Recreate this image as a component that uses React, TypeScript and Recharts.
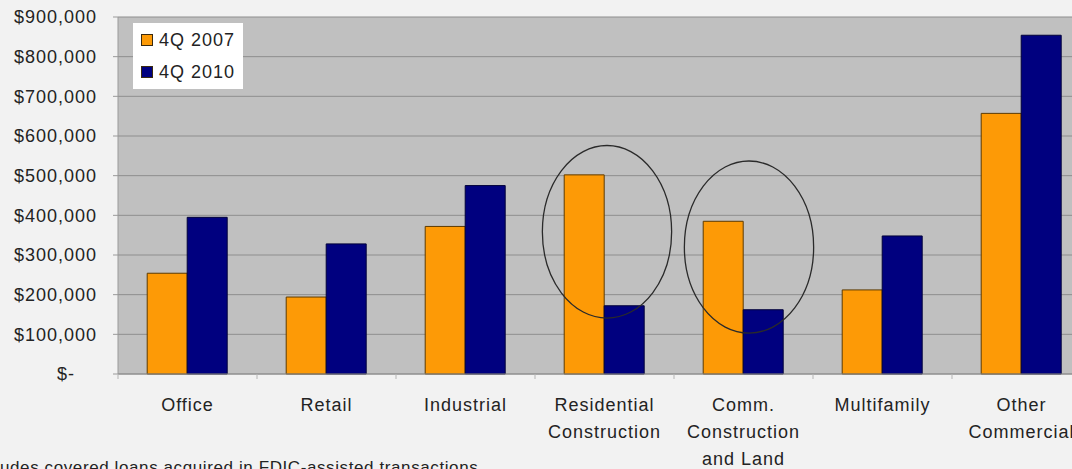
import React from 'react';
import { BarChart, Bar, XAxis, YAxis, CartesianGrid, Legend, ReferenceArea } from 'recharts';

const categories = [
  'Office',
  'Retail',
  'Industrial',
  'Residential\nConstruction',
  'Comm.\nConstruction\nand Land',
  'Multifamily',
  'Other\nCommercial',
];
const values2007 = [254000, 194000, 372000, 502000, 385000, 212000, 657000];
const values2010 = [395000, 328000, 475000, 172000, 162000, 348000, 854000];
const seriesNames = ['4Q 2007', '4Q 2010'];
const yTicks = [0, 100000, 200000, 300000, 400000, 500000, 600000, 700000, 800000, 900000];
const highlightCats = [categories[3], categories[4]];
const highlightLow = [141000, 103000];
const highlightHigh = [576000, 537000];
const footnote = 'udes covered loans acquired in FDIC-assisted transactions';

const data = categories.map((c, i) => ({ cat: c, a: values2007[i], b: values2010[i] }));

const FONT = '"Liberation Sans", Arial, Helvetica, sans-serif';
const TEXT = '#232323';
const ORANGE = '#fd9a06';
const NAVY = '#00007f';

const fmt = (v: number) => (v === 0 ? '$-' : '$' + v.toLocaleString('en-US'));

const YTick = (props: any) => {
  const { x, y, payload } = props;
  const v = payload.value as number;
  return (
    <text
      x={v === 0 ? x - 22 : x}
      y={y}
      dy="0.35em"
      textAnchor="end"
      fill={TEXT}
      fontFamily={FONT}
      fontSize={18}
      letterSpacing={1}
    >
      {fmt(v)}
    </text>
  );
};

const XTick = (props: any) => {
  const { x, y, payload, width, visibleTicksCount } = props;
  const lines = String(payload.value).split('\n');
  const half = width / visibleTicksCount / 2;
  return (
    <g>
      <line x1={x - half} x2={x - half} y1={y - 7} y2={y - 2} stroke="#b4b4b4" strokeWidth={1} />
      <text x={x} y={y} textAnchor="middle" fill={TEXT} fontFamily={FONT} fontSize={18} letterSpacing={1}>
        {lines.map((l, i) => (
          <tspan key={i} x={x} y={y + 30 + i * 27}>
            {l}
          </tspan>
        ))}
      </text>
    </g>
  );
};

const LegendContent = (props: any) => {
  const { payload } = props;
  return (
    <div style={{ paddingTop: 1, paddingLeft: 8 }}>
      {(payload || []).map((p: any, i: number) => (
        <div key={i} style={{ display: 'flex', alignItems: 'center', height: 32 }}>
          <span
            style={{
              display: 'inline-block',
              width: 10,
              height: 10,
              background: p.color,
              border: '1px solid #3a2a10',
              marginRight: 6,
            }}
          />
          <span style={{ fontFamily: FONT, fontSize: 18, letterSpacing: 1, color: TEXT }}>{p.value}</span>
        </div>
      ))}
    </div>
  );
};

const Ellipse = (dx: number) => (props: any) => {
  const { x, y, width, height } = props;
  return (
    <ellipse
      cx={x + width / 2 + dx}
      cy={y + height / 2}
      rx={width * 0.465}
      ry={height / 2}
      fill="none"
      stroke="#2a2a2a"
      strokeWidth={1.3}
    />
  );
};

export default function App() {
  return (
    <div
      style={{
        position: 'fixed',
        left: 0,
        top: 0,
        width: 1072,
        height: 469,
        overflow: 'hidden',
        background: '#f2f2f2',
      }}
    >
      <BarChart
        width={1100}
        height={469}
        data={data}
        margin={{ top: 17, right: 9, bottom: 0, left: 0 }}
        barCategoryGap="21%"
        barGap={0}
      >
        <CartesianGrid vertical={false} fill="#c0c0c0" stroke="#8e8e8e" strokeWidth={1} />
        <XAxis
          dataKey="cat"
          interval={0}
          height={95}
          tickSize={5}
          tickMargin={2}
          tickLine={false}
          axisLine={{ stroke: '#8e8e8e' }}
          tick={<XTick />}
        />
        <YAxis
          width={118}
          domain={[0, 900000]}
          ticks={yTicks}
          interval={0}
          tickSize={5}
          tickMargin={16}
          tickLine={{ stroke: '#9a9a9a' }}
          axisLine={{ stroke: '#9a9a9a' }}
          tick={<YTick />}
        />
        <Legend
          layout="vertical"
          align="center"
          verticalAlign="middle"
          content={<LegendContent />}
          wrapperStyle={{
            position: 'absolute',
            left: 133,
            top: 23,
            width: 110,
            height: 66,
            background: '#ffffff',
          }}
        />
        <Bar dataKey="a" name={seriesNames[0]} fill={ORANGE} stroke="#5e3b00" strokeWidth={1} isAnimationActive={false} />
        <Bar dataKey="b" name={seriesNames[1]} fill={NAVY} stroke="#00003a" strokeWidth={1} isAnimationActive={false} />
        <ReferenceArea
          x1={highlightCats[0]}
          x2={highlightCats[0]}
          y1={highlightLow[0]}
          y2={highlightHigh[0]}
          shape={Ellipse(2.5)}
          zIndex={1000}
        />
        <ReferenceArea
          x1={highlightCats[1]}
          x2={highlightCats[1]}
          y1={highlightLow[1]}
          y2={highlightHigh[1]}
          shape={Ellipse(5.5)}
          zIndex={1000}
        />
      </BarChart>
      <div
        style={{
          position: 'absolute',
          left: 0,
          top: 458,
          fontFamily: FONT,
          fontSize: 17,
          letterSpacing: 0.6,
          lineHeight: '20px',
          color: TEXT,
          whiteSpace: 'nowrap',
        }}
      >
        {footnote}
      </div>
    </div>
  );
}
